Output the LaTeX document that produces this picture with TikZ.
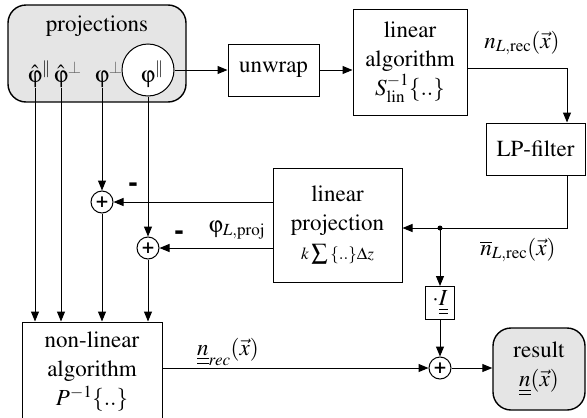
\documentclass[tikz,border=0pt]{standalone}
\usepackage{amsmath}
\usepackage[T1]{fontenc}
\usepackage{mathptmx}
\usepackage{pifont}
\usetikzlibrary{arrows.meta}
\newcommand{\myphi}{\hbox{\Pisymbol{psy}{106}}}
\begin{document}
\begin{tikzpicture}[x=1pt,y=-1pt, line width=1pt,
  every node/.style={font=\rmfamily\fontsize{23}{29}\selectfont, inner sep=0pt},
  arr/.style={-{Triangle[length=10pt,width=8pt]}},
  blk/.style={draw, line width=1pt, fill=white, align=center},
  gbox/.style={draw, line width=1.4pt, rounded corners=18pt, fill=gray!20, align=center},
  plus/.style={draw, circle, minimum size=22pt, fill=white, line width=1pt, font=\rmfamily\bfseries\fontsize{21}{21}\selectfont},
  lab/.style={inner sep=0pt},
  minus/.style={inner sep=0pt, font=\rmfamily\bfseries\fontsize{30}{30}\selectfont}]
\useasboundingbox (0,0) rectangle (587,418);
\clip (0,0) rectangle (587,418);
% projections
\node[gbox, minimum width=178pt, minimum height=97pt] (proj) at (97,53.5) {};
\node[lab] (projt) at (97,26) {projections};
\node[draw, circle, fill=white, minimum size=52pt, line width=1pt] (pc) at (148,70) {};
\node[lab, anchor=base] (p1) at (35,82) {$\hat{\myphi}$\rlap{$^{\|}$}};
\node[lab, anchor=base] (p2) at (61,82) {$\hat{\myphi}$\rlap{\textcolor{black!60}{$^{\perp}$}}};
\node[lab, anchor=base] (p3) at (102,82) {\myphi\rlap{\textcolor{black!60}{$^{\perp}$}}};
\node[lab, anchor=base] (p4) at (148,82) {\myphi\rlap{$^{\|}$}};
% blocks
\node[blk, minimum width=91pt, minimum height=52pt] (unw) at (273.5,70) {unwrap};
\node[blk, minimum width=114pt, minimum height=106pt] (lin) at (410,62) {linear\\algorithm\\$S_{\mathrm{lin}}^{-1}\{..\}$};
\node[blk, minimum width=99pt, minimum height=52pt] (lp) at (535.5,149) {LP-filter};
\node[blk, minimum width=129pt, minimum height=114pt] (lpj) at (337.5,225) {linear\\projection\\${\scriptstyle k}\sum{\scriptstyle\{..\}\Delta z}$};
\node[blk, minimum width=140pt, minimum height=100pt] (nl) at (92,372) {non-linear\\algorithm\\$P^{-1}\{..\}$};
\node[blk, minimum width=29pt, minimum height=33pt] (mi) at (440,303) {$\cdot\underline{\underline{I}}$};
\node[gbox, minimum width=92pt, minimum height=82pt] (res) at (539,369) {result\\$\underline{\underline{n}}(\vec{x})$};
% adders
\node[plus] (a1) at (102,202) {+};
\node[plus] (a2) at (148,248) {+};
\node[plus] (a3) at (440,368) {+};
% helper coordinates
\coordinate (c1) at (567,68);
\coordinate (c2) at (567,228);
\coordinate (dot) at (440,228);
% connectors
\draw[arr] (pc.east) -- (unw.west);
\draw[arr] (unw.east) -- (unw.east -| lin.west);
\draw[arr] (lin.east |- c1) -- (c1) -- (c1 |- lp.north);
\draw[arr] (c2 |- lp.south) -- (c2) -- (c2 -| lpj.east);
\fill (dot) circle (2.5pt);
\draw[arr] (dot) -- (mi.north);
\draw[arr] (mi.south) -- (a3.north);
\draw[arr] (nl.east |- a3) -- (a3.west);
\draw[arr] (a3.east) -- (res.west |- a3);
\draw[arr] (lpj.west |- a1) -- (a1.east);
\draw[arr] (lpj.west |- a2) -- (a2.east);
\draw[arr] (p1.south) -- (p1.south |- nl.north);
\draw[arr] (p2.south) -- (p2.south |- nl.north);
\draw[arr] (p3.south) -- (a1.north);
\draw[arr] (a1.south) -- (a1.south |- nl.north);
\draw[arr] (pc.south) -- (a2.north);
\draw[arr] (a2.south) -- (a2.south |- nl.north);
% labels
\node[lab] (l1) at (522,43) {$n_{L,\mathrm{rec}}(\vec{x})$};
\node[lab] (l2) at (518,250) {$\overline{n}_{L,\mathrm{rec}}(\vec{x})$};
\node[lab] (l3) at (237,230) {\myphi$_{L,\mathrm{proj}}$};
\node[minus] (m1) at (133,187) {-};
\node[minus] (m2) at (179,235) {-};
\node[lab] (l4) at (228,352) {$\underline{\underline{n}}_{rec}(\vec{x})$};
\end{tikzpicture}
\end{document}
